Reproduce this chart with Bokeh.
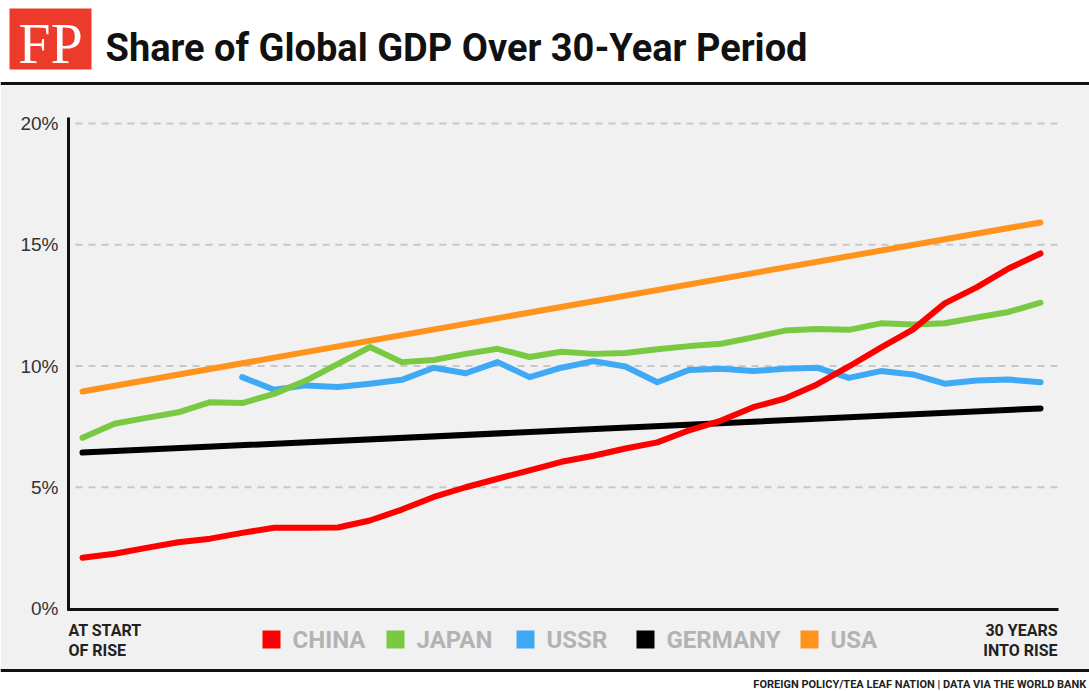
from bokeh.plotting import figure
from bokeh.models import Range1d
from bokeh.core.properties import value
from bokeh.embed import file_html
from bokeh.resources import INLINE

# ---------------- data ----------------
years = list(range(31))
china = [2.09, 2.26, 2.50, 2.73, 2.88, 3.12, 3.33, 3.33, 3.34, 3.63, 4.08,
         4.60, 5.00, 5.35, 5.70, 6.05, 6.30, 6.60, 6.85, 7.35, 7.75,
         8.30, 8.66, 9.24, 9.98, 10.76, 11.50, 12.58, 13.24, 14.02, 14.64]
japan = [7.04, 7.62, 7.86, 8.09, 8.51, 8.47, 8.85, 9.40, 10.09, 10.78, 10.16,
         10.25, 10.50, 10.71, 10.37, 10.59, 10.50, 10.54, 10.69, 10.82, 10.92,
         11.18, 11.46, 11.53, 11.49, 11.76, 11.71, 11.76, 12.00, 12.23, 12.61]
ussr_years = list(range(5, 31))
ussr = [9.54, 9.02, 9.20, 9.13, 9.27, 9.43, 9.93, 9.70, 10.16, 9.54, 9.93,
        10.20, 9.98, 9.33, 9.84, 9.89, 9.79, 9.89, 9.93, 9.51, 9.79,
        9.65, 9.27, 9.40, 9.44, 9.33]
germany_years = [0, 30]
germany = [6.43, 8.25]
usa_years = [0, 30]
usa = [8.95, 15.92]

series_names = ["CHINA", "JAPAN", "USSR", "GERMANY", "USA"]
series_colors = ["#FF0000", "#7AC943", "#3FA9F5", "#000000", "#FF931E"]
y_ticks = [0, 5, 10, 15, 20]
y_tick_labels = ["0%", "5%", "10%", "15%", "20%"]
x_end_labels = [["AT START", "OF RISE"], ["30 YEARS", "INTO RISE"]]
title_text = "Share of Global GDP Over 30-Year Period"
source_text = "FOREIGN POLICY/TEA LEAF NATION | DATA VIA THE WORLD BANK"

# ---------------- layout helpers ----------------
W, H = 1089, 691
X0C = 82          # px of year 0
SX = 958 / 30     # px per year
Y0C = 608         # px (from top) of 0%
SY = 24.25        # px per percentage point


def X(px):
    return (px - X0C) / SX


def Y(py):
    return (Y0C - py) / SY


p = figure(width=W, height=H,
           x_range=Range1d(X(0), X(W)),
           y_range=Range1d(Y(H), Y(0)),
           output_backend="svg", toolbar_location=None,
           x_axis_type=None, y_axis_type=None, min_border=0)
p.outline_line_color = None
p.background_fill_color = "white"
p.border_fill_color = "white"

BOLD_SANS = value("Roboto")

# grey panel and rules
p.quad(left=X(0), right=X(W), top=Y(85), bottom=Y(669),
       fill_color="#f1f1f1", line_color=None)
p.segment(x0=X(0), y0=Y(83), x1=X(W), y1=Y(83), line_width=3, line_color="#111111")
p.segment(x0=X(0), y0=Y(670), x1=X(W), y1=Y(670), line_width=3, line_color="#111111")

# logo
p.quad(left=X(9), right=X(91), top=Y(8), bottom=Y(69), fill_color="#EC3A2B", line_color=None)
p.text(x=[X(50)], y=[Y(43)], text=["FP"], text_font=value("Liberation Serif"),
       text_font_size="58px", text_color="white", text_align="center",
       text_baseline="middle")

# title
p.text(x=[X(105)], y=[Y(47)], text=[title_text], text_font=BOLD_SANS,
       text_font_style="bold", text_font_size="38px", text_color="#111111",
       text_align="left", text_baseline="middle")

# gridlines
grid_y = [t for t in y_ticks if t > 0]
p.segment(x0=[X(75)] * len(grid_y), y0=grid_y, x1=[X(1058)] * len(grid_y), y1=grid_y,
          line_color="#c8c8c8", line_width=2, line_dash="7 6")

# axes lines
p.segment(x0=X(68), y0=Y(610), x1=X(68), y1=Y(117), line_width=3, line_color="#111111")
p.segment(x0=X(67), y0=Y(609), x1=X(1058), y1=Y(609), line_width=3, line_color="#111111")

# y tick labels
p.text(x=[X(58)] * len(y_ticks), y=y_ticks, text=y_tick_labels,
       text_font=value("Liberation Sans"), text_font_size="19px",
       text_color="#333333", text_align="right", text_baseline="middle")

# x end labels
p.text(x=[X(68)] * 2, y=[Y(630), Y(650)], text=x_end_labels[0], text_font=BOLD_SANS,
       text_font_style="bold", text_font_size="16px", text_color="#222222",
       text_align="left", text_baseline="middle")
p.text(x=[X(1057)] * 2, y=[Y(630), Y(650)], text=x_end_labels[1], text_font=BOLD_SANS,
       text_font_style="bold", text_font_size="16px", text_color="#222222",
       text_align="right", text_baseline="middle")

# legend
legend_left = [262, 386, 516, 636, 800]
p.rect(x=[X(l + 9) for l in legend_left], y=[Y(639)] * 5, width=18, height=18,
       width_units="screen", height_units="screen",
       fill_color=series_colors, line_color=None)
p.text(x=[X(l + 30) for l in legend_left], y=[Y(639)] * 5, text=series_names,
       text_font=BOLD_SANS, text_font_style="bold", text_font_size="24px",
       text_color="#b3b3b3", text_align="left", text_baseline="middle")

# source
p.text(x=[X(1086)], y=[Y(684)], text=[source_text], text_font=BOLD_SANS,
       text_font_style="bold", text_font_size="11px", text_color="#222222",
       text_align="right", text_baseline="middle")

# data lines
lw = 6
p.line(usa_years, usa, line_color=series_colors[4], line_width=lw, line_cap="round", line_join="round")
p.line(germany_years, germany, line_color=series_colors[3], line_width=lw, line_cap="round", line_join="round")
p.line(ussr_years, ussr, line_color=series_colors[2], line_width=lw, line_cap="round", line_join="round")
p.line(years, japan, line_color=series_colors[1], line_width=lw, line_cap="round", line_join="round")
p.line(years, china, line_color=series_colors[0], line_width=lw, line_cap="round", line_join="round")

open("out.html", "w").write(file_html(p, INLINE))
